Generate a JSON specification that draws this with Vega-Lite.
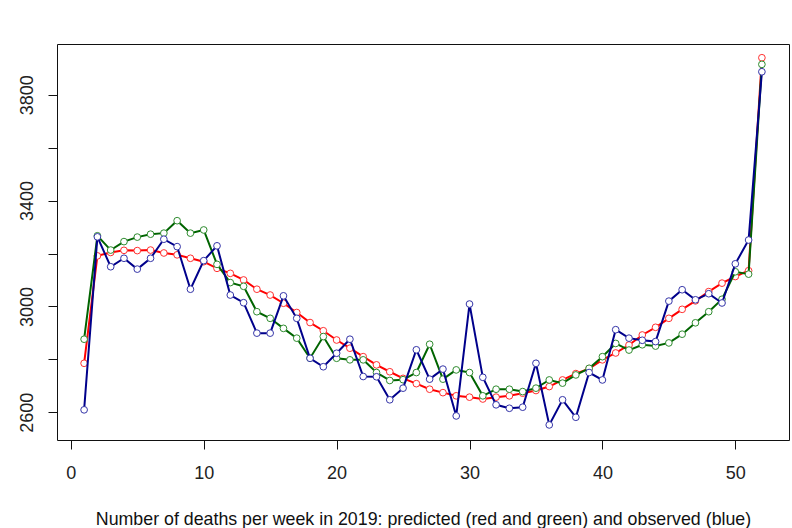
{
  "$schema": "https://vega.github.io/schema/vega-lite/v6.json",
  "width": 732,
  "height": 396,
  "autosize": "none",
  "padding": {"left": 57, "top": 44, "right": 3, "bottom": 88},
  "background": "white",
  "config": {
    "view": {"stroke": "#111111", "strokeWidth": 1},
    "axis": {
      "grid": false,
      "domain": false,
      "tickColor": "#111111",
      "tickSize": 9,
      "tickWidth": 1,
      "labelFont": "Liberation Sans",
      "labelFontSize": 18,
      "labelColor": "#222222",
      "titleFont": "Liberation Sans",
      "titleFontSize": 17.8,
      "titleFontWeight": "normal",
      "titleColor": "#111111"
    }
  },
  "datasets": {
    "deaths": [
      {"week": 1, "red": 2785, "green": 2876, "blue": 2609},
      {"week": 2, "red": 3191, "green": 3267, "blue": 3263},
      {"week": 3, "red": 3204, "green": 3213, "blue": 3150},
      {"week": 4, "red": 3212, "green": 3245, "blue": 3182},
      {"week": 5, "red": 3211, "green": 3262, "blue": 3141},
      {"week": 6, "red": 3213, "green": 3273, "blue": 3182},
      {"week": 7, "red": 3202, "green": 3277, "blue": 3254},
      {"week": 8, "red": 3195, "green": 3324, "blue": 3226},
      {"week": 9, "red": 3182, "green": 3277, "blue": 3065},
      {"week": 10, "red": 3169, "green": 3289, "blue": 3173},
      {"week": 11, "red": 3144, "green": 3159, "blue": 3229},
      {"week": 12, "red": 3125, "green": 3090, "blue": 3043},
      {"week": 13, "red": 3100, "green": 3076, "blue": 3014},
      {"week": 14, "red": 3065, "green": 2980, "blue": 2899},
      {"week": 15, "red": 3043, "green": 2955, "blue": 2899},
      {"week": 16, "red": 3012, "green": 2917, "blue": 3040},
      {"week": 17, "red": 2977, "green": 2880, "blue": 2955},
      {"week": 18, "red": 2939, "green": 2804, "blue": 2804},
      {"week": 19, "red": 2908, "green": 2886, "blue": 2772},
      {"week": 20, "red": 2873, "green": 2804, "blue": 2823},
      {"week": 21, "red": 2842, "green": 2798, "blue": 2876},
      {"week": 22, "red": 2810, "green": 2798, "blue": 2735},
      {"week": 23, "red": 2779, "green": 2750, "blue": 2734},
      {"week": 24, "red": 2753, "green": 2720, "blue": 2647},
      {"week": 25, "red": 2728, "green": 2723, "blue": 2691},
      {"week": 26, "red": 2708, "green": 2750, "blue": 2836},
      {"week": 27, "red": 2687, "green": 2857, "blue": 2725},
      {"week": 28, "red": 2674, "green": 2725, "blue": 2763},
      {"week": 29, "red": 2662, "green": 2760, "blue": 2586},
      {"week": 30, "red": 2657, "green": 2750, "blue": 3009},
      {"week": 31, "red": 2650, "green": 2662, "blue": 2732},
      {"week": 32, "red": 2657, "green": 2687, "blue": 2628},
      {"week": 33, "red": 2662, "green": 2687, "blue": 2615},
      {"week": 34, "red": 2672, "green": 2678, "blue": 2619},
      {"week": 35, "red": 2682, "green": 2691, "blue": 2785},
      {"week": 36, "red": 2697, "green": 2722, "blue": 2552},
      {"week": 37, "red": 2722, "green": 2710, "blue": 2647},
      {"week": 38, "red": 2746, "green": 2741, "blue": 2581},
      {"week": 39, "red": 2765, "green": 2766, "blue": 2750},
      {"week": 40, "red": 2798, "green": 2810, "blue": 2722},
      {"week": 41, "red": 2824, "green": 2860, "blue": 2912},
      {"week": 42, "red": 2854, "green": 2835, "blue": 2880},
      {"week": 43, "red": 2892, "green": 2855, "blue": 2872},
      {"week": 44, "red": 2921, "green": 2850, "blue": 2867},
      {"week": 45, "red": 2955, "green": 2862, "blue": 3020},
      {"week": 46, "red": 2989, "green": 2895, "blue": 3063},
      {"week": 47, "red": 3021, "green": 2938, "blue": 3025},
      {"week": 48, "red": 3056, "green": 2980, "blue": 3048},
      {"week": 49, "red": 3088, "green": 3027, "blue": 3013},
      {"week": 50, "red": 3113, "green": 3131, "blue": 3161},
      {"week": 51, "red": 3135, "green": 3122, "blue": 3251},
      {"week": 52, "red": 3940, "green": 3915, "blue": 3887}
    ]
  },
  "data": {"name": "deaths"},
  "encoding": {
    "x": {
      "field": "week",
      "type": "quantitative",
      "scale": {"domain": [-1.04, 54.04], "nice": false, "zero": false},
      "axis": {
        "values": [0, 10, 20, 30, 40, 50],
        "format": "d",
        "labelPadding": 15,
        "title": "Number of deaths per week in 2019: predicted (red and green) and observed (blue)",
        "titlePadding": 28
      }
    }
  },
  "layer": [
    {
      "mark": {"type": "line", "color": "#FF0000", "strokeWidth": 2},
      "encoding": {
        "y": {
          "field": "red",
          "type": "quantitative",
          "scale": {"domain": [2495, 3992], "nice": false, "zero": false},
          "axis": {
            "values": [2600, 2800, 3000, 3200, 3400, 3600, 3800],
            "labelExpr": "datum.value % 400 == 0 ? '' : datum.label",
            "format": "d",
            "labelAngle": -90,
            "labelAlign": "center",
            "labelBaseline": "bottom",
            "labelPadding": 12,
            "title": null
          }
        }
      }
    },
    {
      "mark": {"type": "point", "shape": "circle", "size": 45, "filled": false, "fill": "white", "fillOpacity": 1, "stroke": "#FF3030", "strokeWidth": 1, "opacity": 1},
      "encoding": {"y": {"field": "red", "type": "quantitative"}}
    },
    {
      "mark": {"type": "line", "color": "#006400", "strokeWidth": 2},
      "encoding": {"y": {"field": "green", "type": "quantitative"}}
    },
    {
      "mark": {"type": "point", "shape": "circle", "size": 45, "filled": false, "fill": "white", "fillOpacity": 1, "stroke": "#2E8B2E", "strokeWidth": 1, "opacity": 1},
      "encoding": {"y": {"field": "green", "type": "quantitative"}}
    },
    {
      "mark": {"type": "line", "color": "#00008B", "strokeWidth": 2},
      "encoding": {"y": {"field": "blue", "type": "quantitative"}}
    },
    {
      "mark": {"type": "point", "shape": "circle", "size": 45, "filled": false, "fill": "white", "fillOpacity": 1, "stroke": "#3434A8", "strokeWidth": 1, "opacity": 1},
      "encoding": {"y": {"field": "blue", "type": "quantitative"}}
    }
  ]
}
